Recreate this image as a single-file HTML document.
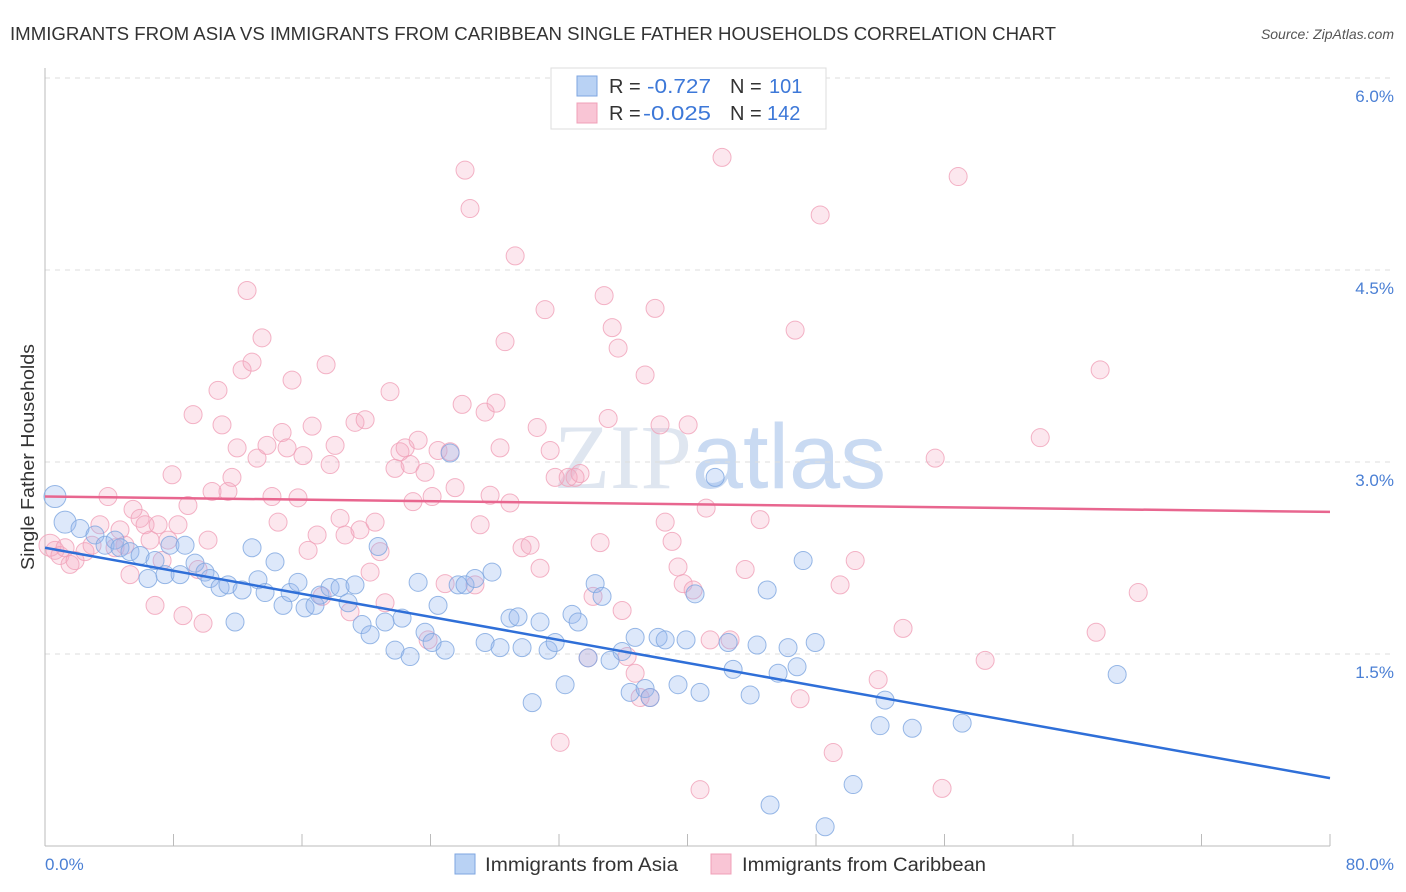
<!DOCTYPE html>
<html><head><meta charset="utf-8">
<style>
body{margin:0;background:#fff;font-family:"Liberation Sans",sans-serif;}
#wrap{position:relative;width:1406px;height:892px;overflow:hidden;}
</style></head>
<body>
<div id="wrap">
<svg id="svg" width="1406" height="892" xmlns="http://www.w3.org/2000/svg">
<text x="10" y="40" font-size="18" fill="#333" textLength="1046" lengthAdjust="spacingAndGlyphs">IMMIGRANTS FROM ASIA VS IMMIGRANTS FROM CARIBBEAN SINGLE FATHER HOUSEHOLDS CORRELATION CHART</text>
<text x="1394" y="39" font-size="14" fill="#555" font-style="italic" text-anchor="end">Source: ZipAtlas.com</text>
<text x="720" y="488" font-size="92" fill="#dfe6f0" text-anchor="middle" font-family="Liberation Serif,serif">ZIP<tspan font-family="Liberation Sans,sans-serif" fill="#c9daf2">atlas</tspan></text>
<g id="grid"></g>
<g id="axes"></g>
<g id="pts"></g>
<g id="trend"></g>
<text transform="translate(34,457) rotate(-90)" font-size="18" fill="#333" text-anchor="middle" textLength="226" lengthAdjust="spacingAndGlyphs">Single Father Households</text>
<text x="45" y="870" font-size="17" fill="#4a7fd4">0.0%</text>
<text x="1394" y="870" font-size="17" fill="#4a7fd4" text-anchor="end">80.0%</text>
<g>
<rect x="551" y="68" width="275" height="61" fill="#fff" stroke="#ddd"/>
<rect x="577" y="76" width="20" height="20" fill="#b9d2f4" stroke="#7ea6e0"/>
<rect x="577" y="103" width="20" height="20" fill="#f9c5d5" stroke="#f0a0b8"/>
<text x="609" y="93" font-size="20" fill="#333"><tspan>R = </tspan><tspan x="647" fill="#3d78d8" textLength="64" lengthAdjust="spacingAndGlyphs">-0.727</tspan><tspan x="730">N = </tspan><tspan x="769" fill="#3d78d8">101</tspan></text>
<text x="609" y="120" font-size="20" fill="#333"><tspan>R = </tspan><tspan x="643" fill="#3d78d8" textLength="68" lengthAdjust="spacingAndGlyphs">-0.025</tspan><tspan x="730">N = </tspan><tspan x="767" fill="#3d78d8">142</tspan></text>
</g>
<g>
<rect x="455" y="854" width="20" height="20" fill="#b9d2f4" stroke="#7ea6e0"/>
<text x="485" y="871" font-size="19" fill="#333" textLength="193" lengthAdjust="spacingAndGlyphs">Immigrants from Asia</text>
<rect x="711" y="854" width="20" height="20" fill="#f9c5d5" stroke="#f0a0b8"/>
<text x="742" y="871" font-size="19" fill="#333" textLength="244" lengthAdjust="spacingAndGlyphs">Immigrants from Caribbean</text>
</g>
</svg>
</div>
<script>
const yTicks=[1.5,3.0,4.5,6.0];
const xTickVals=[0,8,16,24,32,40,48,56,64,72,80];
const asiaX=[0.62,1.25,2.18,3.11,3.74,4.36,4.67,5.29,5.92,6.41,6.85,7.47,7.78,8.41,8.72,9.34,9.96,10.27,10.90,11.39,11.83,12.27,12.89,13.26,13.70,14.32,14.82,15.26,15.75,16.19,16.81,17.12,17.75,18.37,18.87,19.30,19.74,20.24,20.74,21.17,21.79,22.23,22.73,23.23,23.66,24.10,24.47,24.91,25.22,25.72,26.15,26.77,27.40,27.83,28.33,28.95,29.45,29.70,30.33,30.82,31.32,31.76,32.38,32.81,33.19,33.81,34.25,34.68,35.18,35.93,36.43,36.74,37.36,37.67,38.17,38.61,39.41,39.91,40.47,40.78,41.72,42.53,42.84,43.90,44.33,44.96,45.64,46.26,46.82,47.20,47.95,48.57,50.31,51.99,52.30,53.99,57.10,66.75,45.14];
const asiaY=[2.73,2.53,2.48,2.43,2.35,2.39,2.33,2.30,2.27,2.09,2.23,2.12,2.35,2.12,2.35,2.21,2.14,2.09,2.02,2.04,1.75,2.00,2.33,2.08,1.98,2.22,1.88,1.98,2.06,1.86,1.88,1.96,2.02,2.02,1.90,2.04,1.73,1.65,2.34,1.75,1.53,1.78,1.48,2.06,1.67,1.59,1.88,1.53,3.07,2.04,2.04,2.09,1.59,2.14,1.55,1.78,1.79,1.55,1.12,1.75,1.53,1.59,1.26,1.81,1.75,1.47,2.05,1.95,1.45,1.52,1.20,1.63,1.23,1.16,1.63,1.61,1.26,1.61,1.97,1.20,2.88,1.59,1.38,1.18,1.57,2.00,1.35,1.55,1.40,2.23,1.59,0.15,0.48,0.94,1.14,0.92,0.96,1.34,0.32];
const caribX=[0.31,0.62,0.93,1.25,1.56,1.87,2.49,2.93,3.42,3.92,4.36,4.67,4.98,5.29,5.48,5.92,6.23,6.54,6.85,7.04,7.29,7.66,7.91,8.28,8.59,8.90,9.22,9.53,9.84,10.15,10.40,10.77,11.02,11.39,11.64,11.96,12.27,12.58,12.89,13.20,13.51,13.82,14.13,14.51,14.76,15.07,15.38,15.75,16.06,16.38,16.63,16.94,17.25,17.50,17.75,18.06,18.37,18.68,18.99,19.30,19.61,19.93,20.24,20.55,20.86,21.17,21.48,21.79,22.10,22.42,22.73,22.91,23.23,23.66,23.85,24.10,24.47,24.91,25.22,25.53,25.97,26.15,26.46,26.77,27.09,27.40,27.71,28.08,28.33,28.64,28.95,29.27,29.70,30.20,30.64,30.82,31.13,31.45,31.76,32.07,32.57,33.00,33.31,33.81,34.12,34.56,34.81,35.06,35.31,35.68,35.93,36.24,36.74,37.05,37.36,37.67,37.98,38.29,38.61,39.04,39.41,39.73,40.04,40.35,40.78,41.16,41.41,42.15,42.65,43.59,44.52,46.70,47.01,48.26,49.07,49.50,50.44,51.87,53.42,55.42,55.85,56.85,58.53,61.96,65.44,65.69,68.06];
const caribY=[2.35,2.31,2.27,2.33,2.20,2.23,2.30,2.35,2.51,2.73,2.33,2.47,2.35,2.12,2.63,2.56,2.51,2.39,1.88,2.51,2.23,2.39,2.90,2.51,1.80,2.66,3.37,2.16,1.74,2.39,2.77,3.56,3.29,2.77,2.88,3.11,3.72,4.34,3.78,3.03,3.97,3.13,2.73,2.53,3.23,3.11,3.64,2.72,3.05,2.31,3.28,2.43,1.95,3.76,2.98,3.13,2.56,2.43,1.83,3.31,2.47,3.33,2.14,2.53,2.30,1.90,3.55,2.95,3.08,3.11,2.98,2.69,3.17,2.92,1.61,2.73,3.09,2.05,3.08,2.80,3.45,5.28,4.98,2.04,2.51,3.39,2.74,3.46,3.11,3.94,2.68,4.61,2.33,2.35,3.27,2.17,4.19,3.09,2.88,0.81,2.88,2.88,2.91,1.47,1.95,2.37,4.30,3.34,4.05,3.89,1.84,1.48,1.35,1.16,3.68,1.16,4.20,3.29,2.53,2.38,2.18,2.05,3.29,2.00,0.44,2.64,1.61,5.38,1.61,2.16,2.55,4.03,1.15,4.93,0.73,2.04,2.23,1.30,1.70,3.03,0.45,5.23,1.45,3.19,1.67,3.72,1.98];
const asiaTrend=[2.33,0.53];
const caribTrend=[2.73,2.61];
const NS='http://www.w3.org/2000/svg';
function xs(v){return 45+v*1285/80;}
function ys(v){return 462-(v-3)*128;}
function mk(t,a,p){const e=document.createElementNS(NS,t);for(const k in a)e.setAttribute(k,a[k]);p.appendChild(e);return e;}
const grid=document.getElementById('grid'),axes=document.getElementById('axes'),pts=document.getElementById('pts'),trend=document.getElementById('trend');
yTicks.forEach(v=>{
  const l=mk('line',{x1:45,x2:1394,y1:ys(v),y2:ys(v),stroke:'#ddd','stroke-dasharray':'5,5'},grid);
  
  
  const t=mk('text',{x:1394,y:ys(v)+24,'font-size':17,fill:'#4a7fd4','text-anchor':'end'},grid);
  t.textContent=v.toFixed(1)+'%';
  
  
});
const ax=mk('line',{x1:45,x2:45,y1:68,y2:846,stroke:'#bbb'},axes);


const bx=mk('line',{x1:45,x2:1330,y1:846,y2:846,stroke:'#bbb'},axes);


xTickVals.forEach(v=>{
  const t=mk('line',{x1:xs(v),x2:xs(v),y1:834,y2:846,stroke:'#bbb'},axes);
  
  
});
function series(X,Y,fill,stroke,name){
  X.forEach((x,i)=>{
    const c=mk('circle',{cx:xs(x),cy:ys(Y[i]),r:i<2&&name==='asia-point'?11:(i<1?11:9),fill:fill,stroke:stroke,'stroke-width':1,'stroke-opacity':0.8},pts);
    
    
  });
}
series(caribX,caribY,'rgba(246,170,195,0.28)','#f0a0b8','caribbean-point');
series(asiaX,asiaY,'rgba(150,185,240,0.32)','#7ea6e0','asia-point');
const l1=mk('line',{x1:xs(0),y1:ys(asiaTrend[0]),x2:xs(80),y2:ys(asiaTrend[1]),stroke:'#2f6fd8','stroke-width':2.5},trend);


const l2=mk('line',{x1:xs(0),y1:ys(caribTrend[0]),x2:xs(80),y2:ys(caribTrend[1]),stroke:'#e8668f','stroke-width':2.5},trend);


</script>
</body></html>
